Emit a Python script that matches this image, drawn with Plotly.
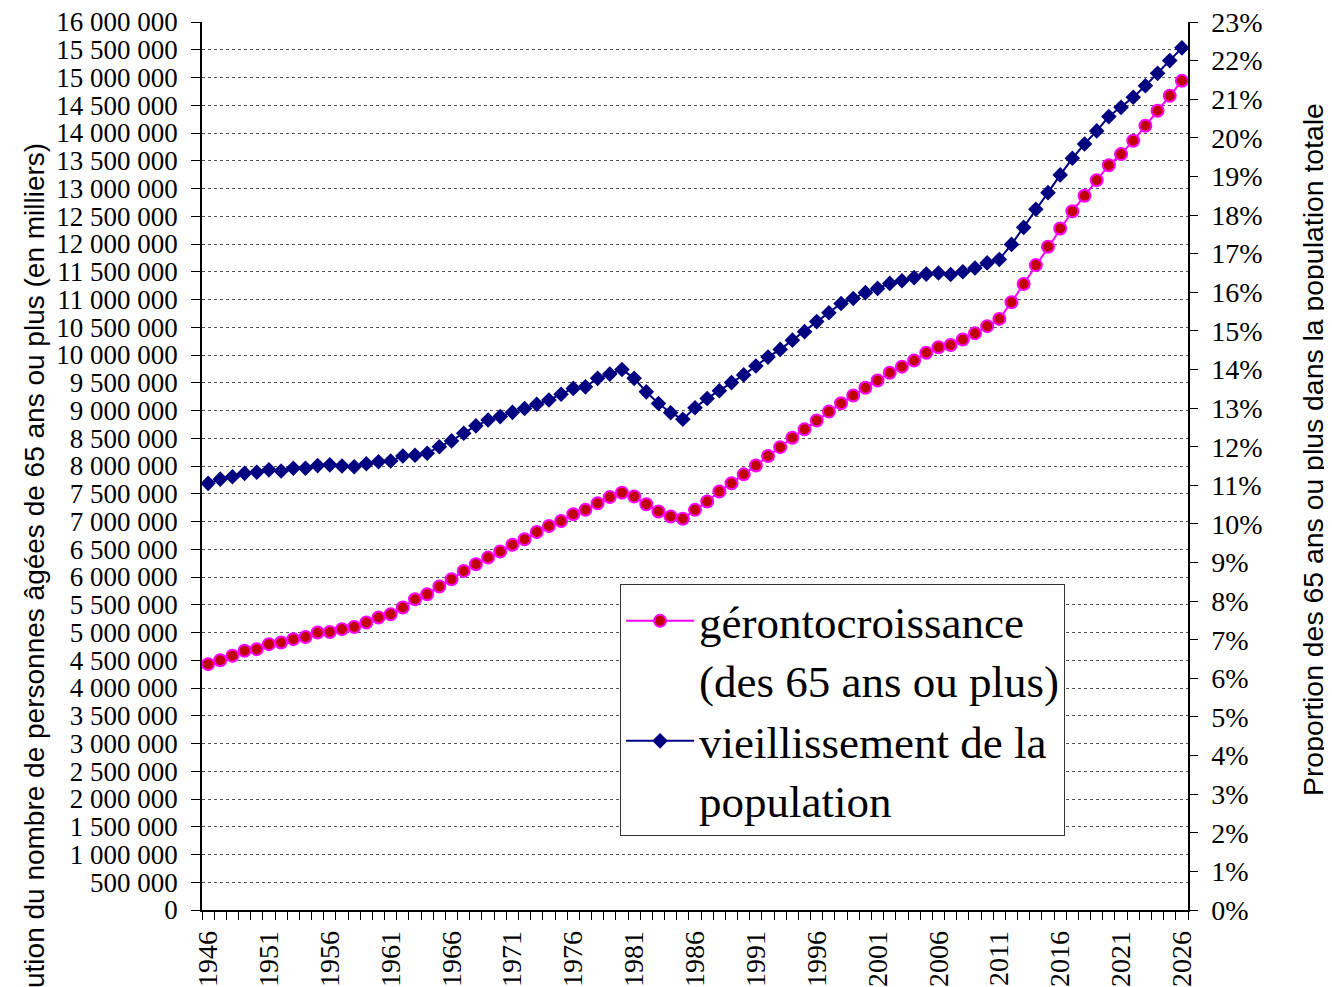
import plotly.graph_objects as go

years = [1946, 1947, 1948, 1949, 1950, 1951, 1952, 1953, 1954, 1955,
         1956, 1957, 1958, 1959, 1960, 1961, 1962, 1963, 1964, 1965,
         1966, 1967, 1968, 1969, 1970, 1971, 1972, 1973, 1974, 1975,
         1976, 1977, 1978, 1979, 1980, 1981, 1982, 1983, 1984, 1985,
         1986, 1987, 1988, 1989, 1990, 1991, 1992, 1993, 1994, 1995,
         1996, 1997, 1998, 1999, 2000, 2001, 2002, 2003, 2004, 2005,
         2006, 2007, 2008, 2009, 2010, 2011, 2012, 2013, 2014, 2015,
         2016, 2017, 2018, 2019, 2020, 2021, 2022, 2023, 2024, 2025,
         2026]

# Number of people aged 65 or more
geronto = [4430000, 4500000, 4580000, 4670000, 4700000, 4790000, 4820000, 4880000, 4920000, 5000000,
           5010000, 5060000, 5100000, 5180000, 5270000, 5330000, 5450000, 5600000, 5690000, 5830000,
           5960000, 6110000, 6230000, 6350000, 6460000, 6580000, 6680000, 6810000, 6920000, 7010000,
           7130000, 7210000, 7330000, 7440000, 7520000, 7450000, 7310000, 7180000, 7090000, 7050000,
           7210000, 7360000, 7540000, 7690000, 7850000, 8010000, 8180000, 8340000, 8510000, 8660000,
           8820000, 8980000, 9130000, 9270000, 9410000, 9540000, 9680000, 9790000, 9900000, 10040000,
           10140000, 10180000, 10280000, 10390000, 10520000, 10650000, 10950000, 11280000, 11620000, 11950000,
           12280000, 12590000, 12870000, 13150000, 13420000, 13620000, 13860000, 14130000, 14400000, 14670000,
           14940000]

# Share of 65+ in total population (%)
vieillissement = [11.05, 11.16, 11.22, 11.31, 11.34, 11.40, 11.37, 11.44, 11.44, 11.51,
                  11.53, 11.50, 11.48, 11.56, 11.61, 11.63, 11.76, 11.78, 11.83, 12.00,
                  12.15, 12.35, 12.54, 12.69, 12.78, 12.89, 12.99, 13.10, 13.21, 13.36,
                  13.51, 13.55, 13.77, 13.88, 14.00, 13.77, 13.42, 13.12, 12.88, 12.71,
                  13.01, 13.25, 13.45, 13.66, 13.86, 14.09, 14.32, 14.52, 14.76, 14.98,
                  15.24, 15.47, 15.71, 15.84, 15.99, 16.10, 16.23, 16.30, 16.38, 16.47,
                  16.50, 16.46, 16.53, 16.63, 16.76, 16.85, 17.24, 17.68, 18.15, 18.58,
                  19.04, 19.47, 19.84, 20.18, 20.55, 20.79, 21.05, 21.35, 21.67, 22.00,
                  22.33]

x_labels = [1946, 1951, 1956, 1961, 1966, 1971, 1976, 1981, 1986, 1991,
            1996, 2001, 2006, 2011, 2016, 2021, 2026]

name_geronto = "gérontocroissance<br>(des 65 ans ou plus)"
name_vieil = "vieillissement de la<br>population"
left_title = "Évolution du nombre de personnes âgées de 65 ans ou plus (en milliers)"
right_title = "Proportion des 65 ans ou plus dans la population totale"

SERIF = "Liberation Serif, Times New Roman, serif"
SANS = "Liberation Sans, Arial, sans-serif"

fig = go.Figure()
fig.add_trace(go.Scatter(
    x=years, y=geronto, name=name_geronto, mode="lines+markers",
    line=dict(color="#FF00FF", width=2),
    marker=dict(symbol="circle", size=12, color="#C00000",
                line=dict(color="#FF00FF", width=2)),
    yaxis="y"))
fig.add_trace(go.Scatter(
    x=years, y=[v / 100 for v in vieillissement], name=name_vieil, mode="lines+markers",
    line=dict(color="#000080", width=2),
    marker=dict(symbol="diamond", size=12, color="#000080"),
    yaxis="y2"))

# The page body has an 8px margin: the figure is sized so that it fills the window exactly.
fig.update_layout(
    width=1324, height=979,
    margin=dict(l=194, r=144, t=14, b=77, autoexpand=False),
    paper_bgcolor="white", plot_bgcolor="white",
    separators=", ",
    showlegend=True,
    legend=dict(x=0.424, y=0.367, xanchor="left", yanchor="top",
                bgcolor="white", bordercolor="#333333", borderwidth=1,
                font=dict(family=SERIF, size=45, color="black"),
                valign="top", tracegroupgap=0, itemwidth=68),
    xaxis=dict(
        range=[1945.5, 2026.5], tickmode="array", tickvals=x_labels,
        ticktext=[str(v) for v in x_labels], tickangle=-90,
        ticks="outside", ticklen=8, tickcolor="rgba(0,0,0,0)",
        tickfont=dict(family=SERIF, size=28, color="black"),
        showline=True, linecolor="black", linewidth=1.5,
        showgrid=False, zeroline=False, automargin=False,
        ticklabeloverflow="allow",
        minor=dict(ticks="outside", tick0=1945.5, dtick=1, ticklen=8,
                   tickcolor="black", tickwidth=1, showgrid=False)),
    yaxis=dict(
        range=[0, 16000000], dtick=500000, tick0=0, tickformat=",d",
        ticks="outside", ticklen=9, tickcolor="black",
        ticklabelstandoff=8, automargin=False, ticklabeloverflow="allow",
        tickfont=dict(family=SERIF, size=27, color="black"),
        showline=True, linecolor="black", linewidth=1.5,
        showgrid=True, gridcolor="#555555", griddash="dot", gridwidth=1,
        zeroline=False),
    yaxis2=dict(
        range=[0, 0.23], dtick=0.01, tick0=0, tickformat=".0%",
        overlaying="y", side="right", automargin=False,
        ticklabeloverflow="allow",
        ticks="outside", ticklen=8, tickcolor="black",
        ticklabelstandoff=8,
        tickfont=dict(family=SERIF, size=28, color="black"),
        showline=True, linecolor="black", linewidth=1.5,
        showgrid=False, zeroline=False),
    annotations=[
        dict(text=left_title, textangle=-90, xref="paper", yref="paper",
             x=-0.170, y=0.867, xanchor="center", yanchor="top", showarrow=False,
             font=dict(family=SANS, size=28, color="black")),
        dict(text=right_title, textangle=-90, xref="paper", yref="paper",
             x=1.1268, y=0.518, xanchor="center", yanchor="middle", showarrow=False,
             font=dict(family=SANS, size=28.4, color="black")),
    ],
)

fig.write_html("out.html")
